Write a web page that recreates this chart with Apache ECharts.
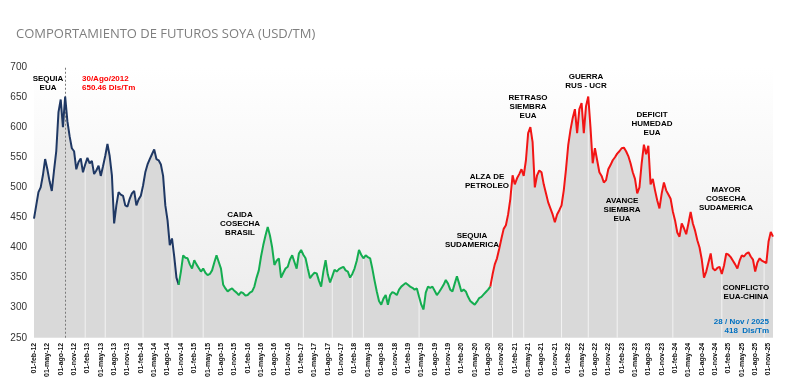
<!DOCTYPE html>
<html><head><meta charset="utf-8">
<script src="https://cdn.jsdelivr.net/npm/echarts@6/dist/echarts.min.js"></script>
<style>html,body{margin:0;padding:0;background:#fff}#c{width:800px;height:380px}</style>
</head><body><div id="c"></div>
<script>
const chartTitle = 'COMPORTAMIENTO DE FUTUROS SOYA (USD/TM)';
const monthNames = ['ene','feb','mar','abr','may','jun','jul','ago','sep','oct','nov','dic'];
const firstYear = 2012, firstMonth = 2, monthCount = 166, lastDate = '2025-11-28';
const yTicks = { min: 250, max: 700, step: 50 };

// semi-monthly prices (USD/TM), Feb-2012 .. 28-Nov-2025
const prices = [
  448,470,492,500,520,547,530,510,494,528,560,625,646,600,651,610,585,565,560,530,542,548,525,538,
  549,540,544,522,528,536,519,535,552,572,552,520,440,470,492,488,486,470,468,481,490,494,470,480,
  486,503,525,538,547,555,563,547,545,538,519,470,445,404,415,385,350,338,360,387,383,382,372,365,
  379,372,366,360,365,358,354,356,362,375,387,376,365,338,332,327,330,332,328,325,321,326,324,320,
  321,325,327,335,350,362,385,404,420,434,420,400,371,378,382,350,358,365,368,380,387,376,365,390,
  396,388,382,365,349,354,358,357,345,335,360,379,355,342,352,363,360,364,366,368,362,360,350,356,
  365,378,396,388,382,387,384,382,365,345,327,311,305,315,321,305,321,326,324,321,330,335,338,341,
  338,335,333,330,332,318,305,297,325,335,333,335,328,321,326,332,338,346,340,330,327,340,352,340,
  327,330,327,318,311,308,305,310,316,318,322,326,330,335,355,372,382,398,415,431,437,455,481,520,
  505,515,522,530,519,545,590,600,575,500,520,528,525,505,490,475,465,455,442,455,462,470,495,530,
  570,595,615,630,590,630,640,590,635,651,600,540,565,545,525,519,508,512,530,537,545,550,556,560,
  565,566,560,552,540,525,514,490,500,540,571,555,569,505,514,495,478,465,490,508,495,488,481,460,
  445,425,418,440,432,422,440,459,440,428,412,400,380,350,360,375,390,365,362,366,368,356,370,390,
  388,384,378,372,365,378,387,385,390,392,385,380,360,375,382,378,376,374,410,426,
  418
];
const segmentStarts = ['2012-02-01','2014-10-16','2020-08-16'];
const segmentColors = ['#1f3864','#14ad50','#f21515'];
const gapDates = ['2013-01-16','2013-06-01','2014-02-16','2014-09-01','2015-04-01','2017-02-16','2017-09-01',
  '2018-01-16','2018-04-01','2019-04-16','2020-09-01','2021-01-16','2021-04-01','2021-12-16','2022-06-16',
  '2023-01-01','2024-01-16','2024-12-16','2025-10-01'];
const peakDate = '2012-09-01';
const notes = [
  { text: 'SEQUIA\nEUA', x: 48, y: 74 },
  { text: 'CAIDA\nCOSECHA\nBRASIL', x: 240, y: 210 },
  { text: 'SEQUIA\nSUDAMERICA', x: 472, y: 231 },
  { text: 'ALZA DE\nPETROLEO', x: 487, y: 172 },
  { text: 'RETRASO\nSIEMBRA\nEUA', x: 528, y: 93 },
  { text: 'GUERRA\nRUS - UCR', x: 586, y: 72 },
  { text: 'DEFICIT\nHUMEDAD\nEUA', x: 652, y: 110 },
  { text: 'AVANCE\nSIEMBRA\nEUA', x: 622, y: 196 },
  { text: 'MAYOR\nCOSECHA\nSUDAMERICA', x: 726, y: 185 },
  { text: 'CONFLICTO\nEUA-CHINA', x: 746, y: 283 }
];
const peakNote = '30/Ago/2012\n650.46 Dls/Tm';
const lastNote = '28 / Nov / 2025\n418  Dls/Tm';

const pad = n => (n < 10 ? '0' : '') + n;
const dates = [];
for (let k = 0; k < monthCount; k++) {
  const mm = (firstMonth - 1 + k) % 12 + 1;
  const yy = firstYear + Math.floor((firstMonth - 1 + k) / 12);
  dates.push(yy + '-' + pad(mm) + '-01');
  dates.push(yy + '-' + pad(mm) + '-16');
}
dates.push(lastDate);

const fmtDate = d => {
  const p = d.split('-');
  return p[2] + '-' + monthNames[+p[1] - 1] + '-' + p[0].slice(2);
};

const segIdx = segmentStarts.map(d => dates.indexOf(d)).concat([dates.length - 1]);
const lineSeries = segmentColors.map((c, s) => ({
  type: 'line', name: 'seg' + s, symbol: 'none', z: 5,
  lineStyle: { color: c, width: 2 },
  data: prices.map((v, i) => (i >= segIdx[s] && i <= segIdx[s + 1]) ? v : '-'),
  markLine: s === 0 ? {
    silent: true, symbol: 'none', label: { show: false },
    lineStyle: { color: '#7a7a7a', type: [2, 2], width: 1 },
    data: [{ xAxis: peakDate }]
  } : undefined
}));

const textStyleFor = (n, color, align) => ({
  type: 'text', x: n.x, y: n.y, z: 20,
  style: { text: n.text, x: 0, y: 0, fill: color, font: 'bold 8px "Liberation Sans", Arial',
    textAlign: align, textVerticalAlign: 'top', lineHeight: 9.3 }
});

const chart = echarts.init(document.getElementById('c'), null, { renderer: 'canvas' });
chart.setOption({
  animation: false,
  backgroundColor: '#ffffff',
  title: { text: chartTitle, left: 11, top: 23,
    textStyle: { color: '#7f7f7f', fontSize: 13, fontWeight: 'normal', fontFamily: 'Open Sans' } },
  grid: { left: 34, right: 27, top: 67, bottom: 40, show: true, borderWidth: 0,
    backgroundColor: { type: 'linear', x: 0, y: 0, x2: 0, y2: 1,
      colorStops: [{ offset: 0, color: '#ffffff' }, { offset: 1, color: '#ebebeb' }] } },
  xAxis: {
    type: 'category', data: dates, boundaryGap: false,
    axisLine: { show: false }, axisTick: { show: false }, splitLine: { show: false },
    axisLabel: {
      rotate: 90, fontSize: 7, fontWeight: 'bold', color: '#111', margin: 5,
      fontFamily: 'Liberation Sans',
      interval: (i) => i % 6 === 0 && i < dates.length - 1,
      formatter: v => fmtDate(v)
    }
  },
  yAxis: {
    type: 'value', min: yTicks.min, max: yTicks.max, interval: yTicks.step,
    axisLine: { show: false }, axisTick: { show: false }, splitLine: { show: false },
    axisLabel: { fontSize: 10, color: '#333', margin: 7, fontFamily: 'Liberation Sans' }
  },
  series: [
    { type: 'line', name: 'area', symbol: 'none', z: 1, silent: true,
      lineStyle: { width: 0 }, areaStyle: { color: '#d9d9d9', origin: 'start', opacity: 1 },
      data: prices },
    { type: 'bar', name: 'gaps', z: 2, silent: true, barWidth: 1, clip: true,
      itemStyle: { color: '#f3f3f3' },
      data: prices.map((v, i) => gapDates.includes(dates[i]) ? v : '-') }
  ].concat(lineSeries),
  graphic: notes.map(n => textStyleFor(n, '#000', 'center'))
    .concat([
      textStyleFor({ text: peakNote, x: 82, y: 74 }, '#ff0000', 'left'),
      textStyleFor({ text: lastNote, x: 769, y: 317 }, '#0070c0', 'right')
    ])
});
</script></body></html>
